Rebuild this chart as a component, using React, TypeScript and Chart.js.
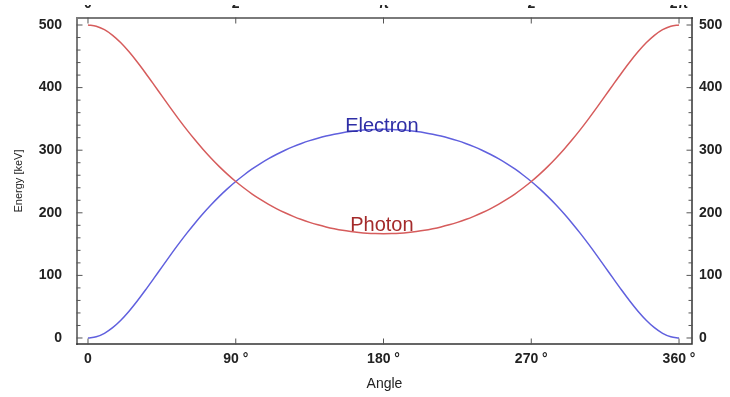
import React, { useEffect, useRef } from "react";
import { Chart, registerables } from "chart.js";

Chart.register(...registerables);

const angles = [0,5,10,15,20,25,30,35,40,45,50,55,60,65,70,75,80,85,90,95,100,105,110,115,120,125,130,135,140,145,150,155,160,165,170,175,180,185,190,195,200,205,210,215,220,225,230,235,240,245,250,255,260,265,270,275,280,285,290,295,300,305,310,315,320,325,330,335,340,345,350,355,360];
const photon = [500.0,498.1,492.5,483.5,471.6,457.2,440.9,423.4,405.2,386.7,368.4,350.5,333.3,317.0,301.6,287.2,273.8,261.4,250.0,239.6,230.0,221.4,213.5,206.4,200.0,194.3,189.2,184.7,180.8,177.4,174.5,172.0,170.1,168.6,167.5,166.9,166.7,166.9,167.5,168.6,170.1,172.0,174.5,177.4,180.8,184.7,189.2,194.3,200.0,206.4,213.5,221.4,230.0,239.6,250.0,261.4,273.8,287.2,301.6,317.0,333.3,350.5,368.4,386.7,405.2,423.4,440.9,457.2,471.6,483.5,492.5,498.1,500.0];
const electron = [0.0,1.9,7.5,16.5,28.4,42.8,59.1,76.6,94.8,113.3,131.6,149.5,166.7,183.0,198.4,212.8,226.2,238.6,250.0,260.4,270.0,278.6,286.5,293.6,300.0,305.7,310.8,315.3,319.2,322.6,325.5,328.0,329.9,331.4,332.5,333.1,333.3,333.1,332.5,331.4,329.9,328.0,325.5,322.6,319.2,315.3,310.8,305.7,300.0,293.6,286.5,278.6,270.0,260.4,250.0,238.6,226.2,212.8,198.4,183.0,166.7,149.5,131.6,113.3,94.8,76.6,59.1,42.8,28.4,16.5,7.5,1.9,0.0];

const xTickValues = [0, 90, 180, 270, 360];
const xTickLabels = ["0", "90 °", "180 °", "270 °", "360 °"];
const topTickLabels: (string | string[])[] = ["0", ["π", "2"], "π", ["3π", "2"], "2π"];
const yTickValues = [0, 100, 200, 300, 400, 500];
const yMinorValues = [20,40,60,80,120,140,160,180,220,240,260,280,320,340,360,380,420,440,460,480];

const curveLabels = [
  { text: "Electron", x: 179, y: 329, color: "#2e2ea6" },
  { text: "Photon", x: 179, y: 171, color: "#a42a2a" },
];

const FONT = "'Liberation Sans', Arial, sans-serif";
const TOP_CUT = 15; // canvas rows hidden at top (image edge of the original figure)

const framePlugin = {
  id: "framePlugin",
  afterDatasetsDraw(chart: any) {
    const { ctx, chartArea } = chart;
    const { left, right, top, bottom } = chartArea;
    const xs = chart.scales.x;
    const ys = chart.scales.y;
    ctx.save();
    ctx.lineCap = "square";
    ctx.strokeStyle = "#7a7a7a";
    ctx.lineWidth = 2;
    ctx.beginPath();
    ctx.moveTo(left, bottom);
    ctx.lineTo(left, top);
    ctx.lineTo(right, top);
    ctx.stroke();
    ctx.strokeStyle = "#333";
    ctx.lineWidth = 1.5;
    ctx.beginPath();
    ctx.moveTo(right, top);
    ctx.lineTo(right, bottom);
    ctx.lineTo(left, bottom);
    ctx.stroke();
    ctx.strokeStyle = "#555";
    ctx.lineWidth = 1;
    ctx.beginPath();
    for (const v of yTickValues) {
      const py = ys.getPixelForValue(v);
      ctx.moveTo(left, py); ctx.lineTo(left + 5, py);
      ctx.moveTo(right, py); ctx.lineTo(right - 5, py);
    }
    for (const v of yMinorValues) {
      const py = ys.getPixelForValue(v);
      ctx.moveTo(left, py); ctx.lineTo(left + 3, py);
      ctx.moveTo(right, py); ctx.lineTo(right - 3, py);
    }
    for (const v of xTickValues) {
      const px = xs.getPixelForValue(v);
      ctx.moveTo(px, bottom); ctx.lineTo(px, bottom - 5);
      ctx.moveTo(px, top); ctx.lineTo(px, top + 5);
    }
    ctx.stroke();
    ctx.font = `20px ${FONT}`;
    ctx.textAlign = "center";
    ctx.textBaseline = "alphabetic";
    for (const l of curveLabels) {
      ctx.fillStyle = l.color;
      ctx.fillText(l.text, xs.getPixelForValue(l.x), ys.getPixelForValue(l.y));
    }
    ctx.restore();
  },
  afterDraw(chart: any) {
    const { ctx, width } = chart;
    ctx.save();
    ctx.fillStyle = "#ffffff";
    ctx.fillRect(0, 0, width, TOP_CUT);
    ctx.restore();
  },
};

export default function App() {
  const ref = useRef<HTMLCanvasElement>(null);
  useEffect(() => {
    if (!ref.current) return;
    const tickFont = { family: FONT, size: 14, weight: "bold" as const };
    const chart = new Chart(ref.current, {
      type: "line",
      data: {
        datasets: [
          {
            label: "Photon",
            data: angles.map((a, i) => ({ x: a, y: photon[i] })),
            borderColor: "rgb(214,92,92)",
            borderWidth: 1.5,
            pointRadius: 0,
            cubicInterpolationMode: "monotone",
            xAxisID: "x",
            yAxisID: "y",
          },
          {
            label: "Electron",
            data: angles.map((a, i) => ({ x: a, y: electron[i] })),
            borderColor: "rgb(96,96,222)",
            borderWidth: 1.5,
            pointRadius: 0,
            cubicInterpolationMode: "monotone",
            xAxisID: "x",
            yAxisID: "y",
          },
        ],
      },
      options: {
        animation: false,
        responsive: false,
        devicePixelRatio: 1,
        layout: { padding: 0 },
        plugins: { legend: { display: false }, tooltip: { enabled: false } },
        scales: {
          x: {
            type: "linear",
            position: "bottom",
            min: -6.7,
            max: 367.9,
            afterBuildTicks: (s: any) => { s.ticks = xTickValues.map((v) => ({ value: v })); },
            afterFit: (s: any) => { s.height = 53; },
            grid: { display: false, drawTicks: false },
            border: { display: false },
            ticks: {
              autoSkip: false,
              maxRotation: 0,
              padding: 7,
              color: "#222",
              font: tickFont,
              callback: (v: any) => xTickLabels[xTickValues.indexOf(Number(v))] ?? "",
            },
            title: { display: true, text: "Angle", color: "#222", font: { family: FONT, size: 14 }, padding: { top: 0, bottom: 4.6 } },
          },
          xTop: {
            type: "linear",
            position: "top",
            min: -6.7,
            max: 367.9,
            afterBuildTicks: (s: any) => { s.ticks = xTickValues.map((v) => ({ value: v })); },
            afterFit: (s: any) => { s.height = 28; },
            grid: { display: false, drawTicks: false },
            border: { display: false },
            ticks: {
              autoSkip: false,
              maxRotation: 0,
              padding: 5,
              color: "#222",
              font: tickFont,
              callback: (v: any) => topTickLabels[xTickValues.indexOf(Number(v))] ?? "",
            },
          },
          y: {
            type: "linear",
            position: "left",
            min: -9.6,
            max: 511.2,
            afterBuildTicks: (s: any) => { s.ticks = yTickValues.map((v) => ({ value: v })); },
            afterFit: (s: any) => { s.width = 77; },
            grid: { display: false, drawTicks: false },
            border: { display: false },
            ticks: { padding: 15, color: "#222", font: tickFont },
            title: { display: true, text: "Energy [keV]", color: "#222", font: { family: FONT, size: 11 }, padding: { top: 12.4, bottom: 0 } },
          },
          yRight: {
            type: "linear",
            position: "right",
            min: -9.6,
            max: 511.2,
            afterBuildTicks: (s: any) => { s.ticks = yTickValues.map((v) => ({ value: v })); },
            afterFit: (s: any) => { s.width = 38; },
            grid: { display: false, drawTicks: false },
            border: { display: false },
            ticks: { padding: 7, color: "#222", font: tickFont },
          },
        },
      },
      plugins: [framePlugin],
    } as any);
    return () => chart.destroy();
  }, []);
  return (
    <div style={{ position: "absolute", left: 0, top: -10, width: 730, height: 407 }}>
      <canvas ref={ref} width={730} height={407} style={{ display: "block", width: 730, height: 407 }} />
    </div>
  );
}
